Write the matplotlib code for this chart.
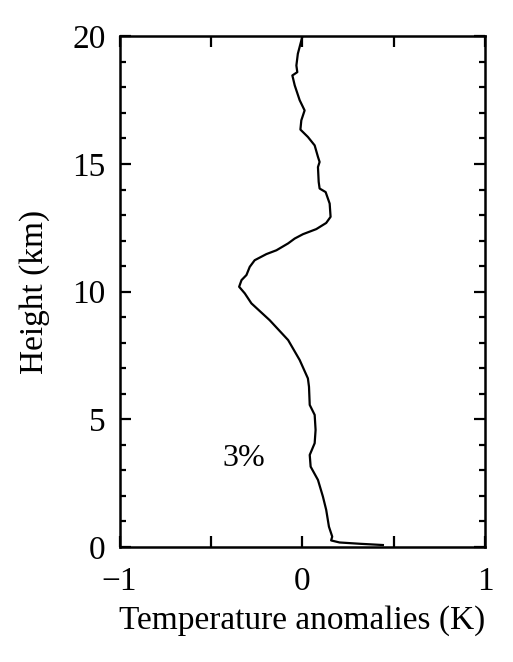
import numpy as np
import matplotlib
matplotlib.use("Agg")
import matplotlib.pyplot as plt
from matplotlib.ticker import MultipleLocator, FuncFormatter

plt.rcParams['font.family'] = ['Liberation Serif', 'DejaVu Serif']

# temperature anomaly (K) vs height (km)
anomaly = [0.440, 0.312, 0.203, 0.157, 0.163, 0.145, 0.130, 0.112, 0.085, 0.045,
           0.040, 0.067, 0.072, 0.067, 0.040, 0.036, 0.030, -0.015, -0.078, -0.179,
           -0.279, -0.315, -0.346, -0.333, -0.306, -0.288, -0.261, -0.197, -0.142, -0.078,
           -0.042, 0.003, 0.076, 0.130, 0.154, 0.149, 0.127, 0.094, 0.089, 0.085,
           0.094, 0.085, 0.067, 0.030, -0.011, -0.006, 0.012, -0.015, -0.042, -0.055,
           -0.028, -0.033, -0.025, 0.0]
height = [0.07, 0.12, 0.17, 0.25, 0.40, 0.79, 1.45, 1.97, 2.62, 3.14,
          3.60, 4.06, 4.58, 5.17, 5.56, 6.27, 6.60, 7.32, 8.10, 8.88,
          9.54, 9.93, 10.19, 10.45, 10.65, 10.97, 11.23, 11.47, 11.62, 11.89,
          12.08, 12.25, 12.45, 12.69, 12.93, 13.45, 13.90, 14.04, 14.30, 14.88,
          15.08, 15.28, 15.73, 16.06, 16.35, 16.71, 17.10, 17.50, 18.08, 18.47,
          18.60, 18.86, 19.32, 20.0]
label_text = "3%"

fig = plt.figure(figsize=(5.13, 6.62), dpi=100)
ax = fig.add_axes([0.233, 0.174, 0.713, 0.771])

ax.plot(anomaly, height, color='black', lw=1.6)
ax.text(-0.32, 3.48, label_text, fontsize=23, ha='center', va='center')

ax.set_xlim(-1, 1)
ax.set_ylim(0, 20)
ax.xaxis.set_major_locator(MultipleLocator(0.5))
ax.xaxis.set_major_formatter(FuncFormatter(
    lambda v, p: ("\u22121" if v < -0.9 else "0" if abs(v) < 0.01 else "1" if v > 0.9 else "")))
ax.yaxis.set_major_locator(MultipleLocator(5))
ax.yaxis.set_minor_locator(MultipleLocator(1))

ax.tick_params(which='both', direction='in', top=True, right=True, width=1.6,
               labelsize=24)
ax.tick_params(axis='x', pad=14)
ax.tick_params(axis='y', pad=10)
ax.tick_params(which='major', length=8)
ax.tick_params(which='minor', length=4)
for s in ax.spines.values():
    s.set_linewidth(1.8)

ax.set_xlabel("Temperature anomalies (K)", fontsize=24, labelpad=6)
ax.set_ylabel("Height (km)", fontsize=24, labelpad=16)

fig.savefig("out.png", dpi=100)
